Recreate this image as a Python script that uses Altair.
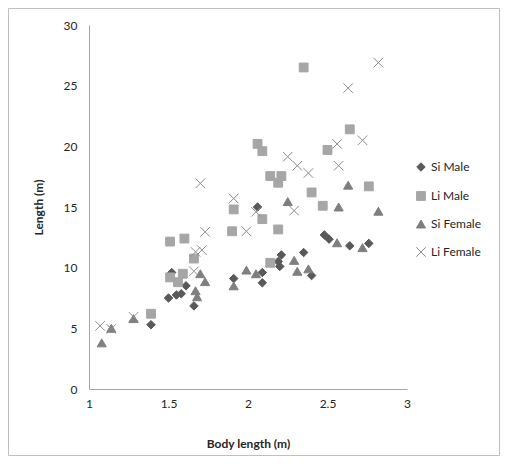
import altair as alt
import pandas as pd

series_names = ["Si Male", "Li Male", "Si Female", "Li Female"]

si_male_x = [1.39, 1.50, 1.55, 1.58, 1.61, 1.66, 1.52, 1.91, 2.06, 2.09, 2.09, 2.19, 2.20, 2.21, 2.35, 2.40, 2.48, 2.51, 2.64, 2.76]
si_male_y = [5.3, 7.5, 7.75, 7.85, 8.5, 6.85, 9.6, 9.1, 15.0, 9.6, 8.75, 10.5, 10.1, 11.05, 11.25, 9.35, 12.7, 12.35, 11.8, 12.0]

li_male_x = [1.39, 1.51, 1.56, 1.59, 1.51, 1.60, 1.66, 1.90, 1.91, 2.06, 2.09, 2.09, 2.14, 2.14, 2.19, 2.19, 2.21, 2.35, 2.40, 2.47, 2.50, 2.64, 2.76]
li_male_y = [6.2, 9.2, 8.8, 9.5, 12.15, 12.4, 10.75, 13.0, 14.8, 20.2, 19.6, 14.0, 17.55, 10.4, 17.0, 13.15, 17.55, 26.5, 16.2, 15.1, 19.7, 21.4, 16.7]

si_female_x = [1.08, 1.14, 1.28, 1.67, 1.68, 1.70, 1.73, 1.91, 1.99, 2.05, 2.25, 2.29, 2.31, 2.38, 2.56, 2.57, 2.63, 2.72, 2.82]
si_female_y = [3.8, 5.0, 5.8, 8.1, 7.6, 9.5, 8.85, 8.5, 9.8, 9.5, 15.45, 10.6, 9.7, 9.9, 12.05, 15.0, 16.8, 11.65, 14.65]

li_female_x = [1.07, 1.14, 1.28, 1.66, 1.67, 1.71, 1.70, 1.73, 1.91, 1.99, 2.05, 2.25, 2.29, 2.31, 2.38, 2.56, 2.57, 2.63, 2.72, 2.82]
li_female_y = [5.2, 4.95, 5.95, 9.7, 11.3, 11.45, 16.95, 12.95, 15.7, 13.0, 14.6, 19.15, 14.7, 18.4, 17.8, 20.2, 18.4, 24.8, 20.5, 26.9]

x_ticks = [1, 1.5, 2, 2.5, 3]
y_ticks = [0, 5, 10, 15, 20, 25, 30]

rows = []
for name, xs, ys in [
    ("Si Male", si_male_x, si_male_y),
    ("Li Male", li_male_x, li_male_y),
    ("Si Female", si_female_x, si_female_y),
    ("Li Female", li_female_x, li_female_y),
]:
    for xv, yv in zip(xs, ys):
        rows.append({"series": name, "body": xv, "length": yv})
df = pd.DataFrame(rows)

font = "Lato"
text_color = "#262626"

shape_scale = alt.Scale(domain=series_names,
                        range=["diamond", "square", "triangle-up", "M-1,-1L1,1M-1,1L1,-1"])
fill_scale = alt.Scale(domain=series_names,
                       range=["#595959", "#a6a6a6", "#7f7f7f", "#8c8c8c"])
stroke_scale = alt.Scale(domain=series_names,
                         range=["#595959", "#a6a6a6", "#7f7f7f", "#8c8c8c"])
size_scale = alt.Scale(domain=series_names, range=[72, 90, 90, 110])

legend = alt.Legend(
    title=None, orient="none", legendX=326, legendY=136,
    labelFont=font, labelFontSize=12, labelColor=text_color,
    rowPadding=15, symbolStrokeWidth=1, labelOffset=4,
)

points = alt.Chart(df).mark_point(opacity=1, strokeWidth=1).encode(
    x=alt.X("body:Q", scale=alt.Scale(domain=[1, 3], nice=False),
            axis=alt.Axis(values=x_ticks, title="Body length (m)", grid=False, format="~g",
                          ticks=False, labelPadding=9, domainColor="#a6a6a6",
                          labelFont=font, labelFontSize=12, labelColor=text_color,
                          titleFont=font, titleFontSize=12, titleFontWeight="bold",
                          titleColor=text_color, titleY=49, labelFlush=False)),
    y=alt.Y("length:Q", scale=alt.Scale(domain=[0, 30], nice=False),
            axis=alt.Axis(values=y_ticks, title="Length (m)", grid=False,
                          ticks=False, labelPadding=12, domainColor="#a6a6a6",
                          labelFont=font, labelFontSize=12, labelColor=text_color,
                          titleFont=font, titleFontSize=12, titleFontWeight="bold",
                          titleColor=text_color, titleX=-51, titleBaseline="middle",
                          labelFlush=False)),
    shape=alt.Shape("series:N", scale=shape_scale, legend=legend, sort=series_names),
    fill=alt.Fill("series:N", scale=fill_scale, legend=legend, sort=series_names),
    stroke=alt.Stroke("series:N", scale=stroke_scale, legend=legend, sort=series_names),
    size=alt.Size("series:N", scale=size_scale, legend=legend, sort=series_names),
)

border = alt.Chart(pd.DataFrame({"a": [0]})).mark_rect(
    fill=None, stroke="#bfbfbf", strokeWidth=1
).encode(x=alt.value(-80.5), x2=alt.value(410.5), y=alt.value(-16.5), y2=alt.value(430.5))

chart = alt.layer(border, points).properties(
    width=318, height=364,
    autosize=alt.AutoSizeParams(type="none"),
    padding={"left": 81, "top": 17, "right": 93, "bottom": 67},
).configure_view(stroke=None)

chart.save("out.html", embed_options={"renderer": "svg", "actions": False})
